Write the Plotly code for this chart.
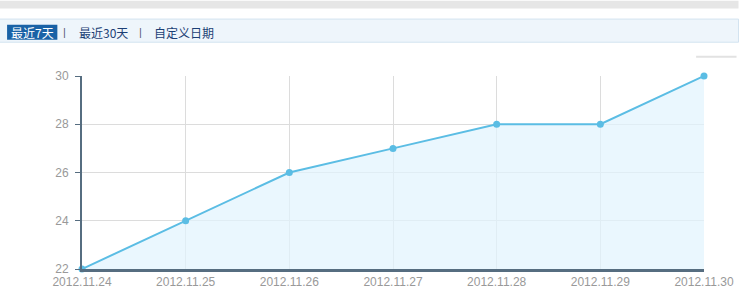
import plotly.graph_objects as go

dates = ["2012.11.24", "2012.11.25", "2012.11.26", "2012.11.27", "2012.11.28", "2012.11.29", "2012.11.30"]
values = [22, 24, 26, 27, 28, 28, 30]
y_ticks = [22, 24, 26, 28, 30]
tabs = ["最近7天", "最近30天", "自定义日期"]

W, H = 746, 301
L, R, T, B = 82, 33, 76, 25
PW, PH = W - L - R, H - T - B

def px(x):
    return (x - L) / PW

def py(y):
    return (H - B - y) / PH

fig = go.Figure()
fig.add_trace(go.Scatter(
    x=list(range(len(dates))), y=values, mode="lines+markers",
    line=dict(color="#5bbde4", width=2),
    marker=dict(color="#5bbde4", size=7),
    fill="tozeroy", fillcolor="rgba(225,243,253,0.7)",
    cliponaxis=False, hoverinfo="skip",
))

shapes = [
    dict(type="rect", xref="paper", yref="paper", x0=px(-2), x1=px(W + 2), y0=py(-2), y1=py(6),
         fillcolor="#e6e6e6", line_width=0, layer="below"),
    dict(type="rect", xref="paper", yref="paper", x0=px(-2), x1=px(W + 2), y0=py(17), y1=py(41),
         fillcolor="#eef5fb", line=dict(color="#d3e3f0", width=1), layer="below"),
    dict(type="rect", xref="paper", yref="paper", x0=px(6), x1=px(57), y0=py(23), y1=py(38.5),
         fillcolor="#1a62a6", line_width=0, layer="below"),
    dict(type="line", xref="paper", yref="paper", x0=px(705), x1=px(746), y0=py(56), y1=py(56),
         line=dict(color="#e2e2e2", width=2)),
]

tab_x = [31.5, 103.5, 185]
tab_colors = ["#ffffff", "#1c3f75", "#1c3f75"]
annotations = []
for t, x, c in zip(tabs, tab_x, tab_colors):
    annotations.append(dict(text=t, x=px(x), y=py(30.5), xref="paper", yref="paper",
                            showarrow=False, xanchor="center", yanchor="middle",
                            font=dict(family="Noto Sans CJK SC", size=12, color=c)))
for x in [64, 141]:
    annotations.append(dict(text="|", x=px(x), y=py(30.5), xref="paper", yref="paper",
                            showarrow=False, xanchor="center", yanchor="middle",
                            font=dict(family="Liberation Sans", size=11, color="#5a5a7a")))

fig.update_layout(
    width=W, height=H, margin=dict(l=L, r=R, t=T, b=B),
    paper_bgcolor="white", plot_bgcolor="white",
    showlegend=False, shapes=shapes, annotations=annotations,
    xaxis=dict(range=[0, len(dates) - 1], tickvals=list(range(len(dates))), ticktext=dates,
               showgrid=True, gridcolor="#dcdcdc", gridwidth=1,
               showline=True, linecolor="#566d80", linewidth=3,
               ticks="", zeroline=False,
               tickfont=dict(family="Liberation Sans", size=12, color="#999999")),
    yaxis=dict(range=[22, 30], tickvals=y_ticks,
               showgrid=True, gridcolor="#dcdcdc", gridwidth=1,
               showline=True, linecolor="#566d80", linewidth=2,
               ticks="outside", ticklen=5, tickcolor="#566d80", tickwidth=1,
               zeroline=False, ticklabelstandoff=4,
               tickfont=dict(family="Liberation Sans", size=12, color="#999999")),
)

fig.write_html("out.html", post_script="document.body.style.margin='0';document.body.style.overflow='hidden';")
